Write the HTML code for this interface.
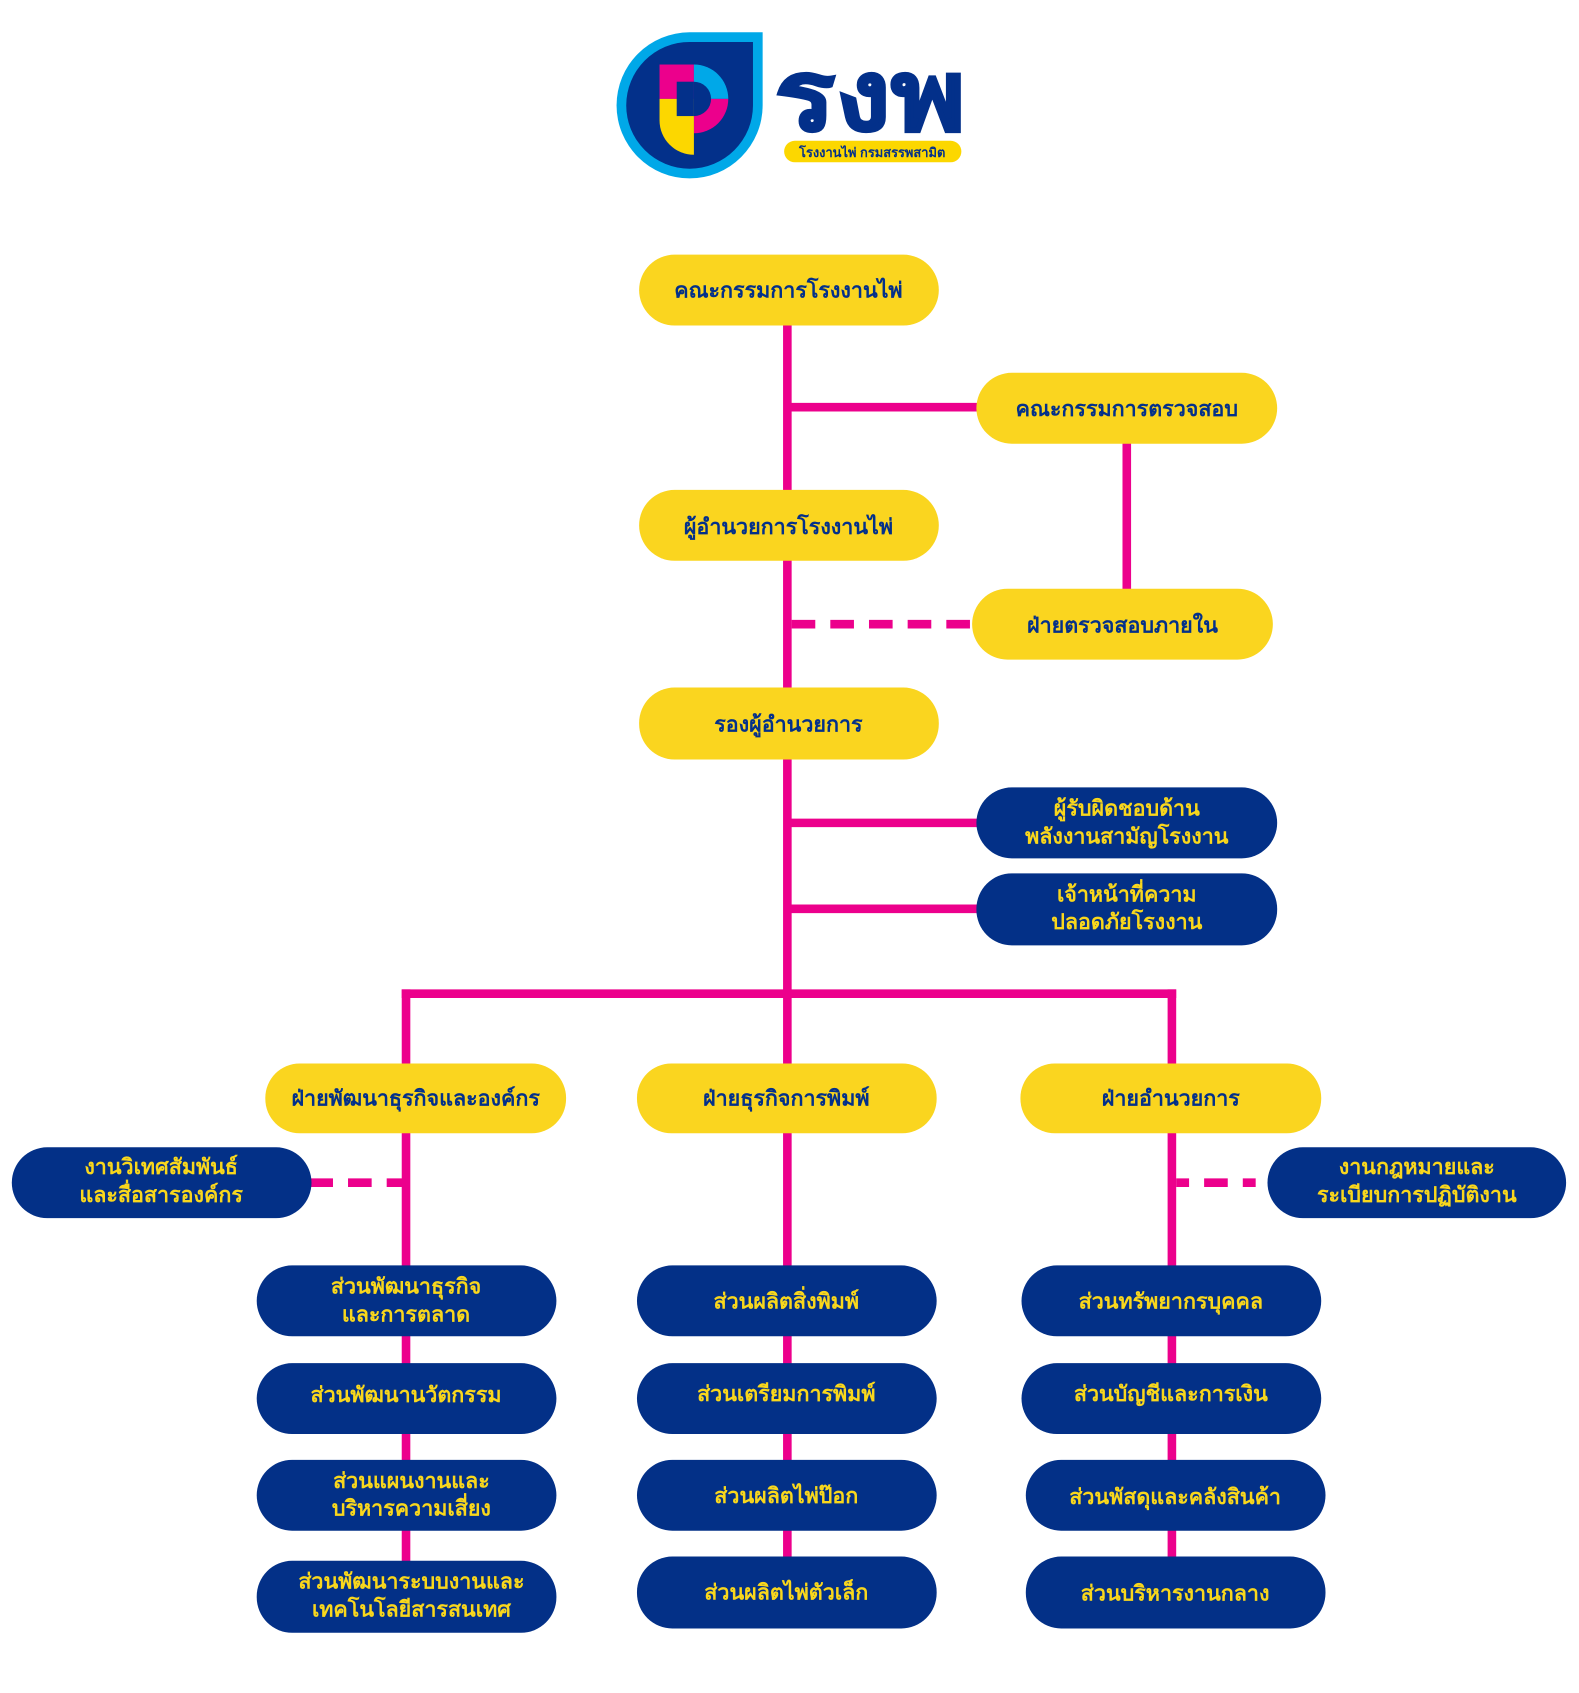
<!DOCTYPE html>
<html><head><meta charset="utf-8"><style>
html,body{margin:0;padding:0;background:#fff;}
svg{display:block}
text{font-family:"Liberation Sans","Noto Sans CJK SC",sans-serif;font-weight:bold;text-anchor:middle;}
</style></head><body>
<svg width="1579" height="1693" viewBox="0 0 1470 1576" xmlns="http://www.w3.org/2000/svg">
<!-- logo -->
<path d="M710,30 L710,98 A68,68 0 1 1 642,30 Z" fill="#00a8e8"/>
<path d="M701,39 L701,98 A59,59 0 1 1 642,39 Z" fill="#03308a"/>
<rect x="614" y="60" width="32" height="32" fill="#ec008c"/>
<path d="M646,60 A32,32 0 0 1 678,92 L646,92 Z" fill="#00a8e8"/>
<path d="M646,92 L678,92 A32,32 0 0 1 646,124 Z" fill="#ec008c"/>
<path d="M614,92 L646,92 L646,144 A32,32 0 0 1 614,112 Z" fill="#fcd700"/>
<rect x="630" y="76" width="16" height="32" fill="#03308a"/>
<path d="M646,76 A16,16 0 0 1 646,108 Z" fill="#03308a"/>
<text x="810" y="121" font-size="92" fill="#03308a" stroke="#03308a" stroke-width="2" transform="translate(810 0) scale(1.15 1) translate(-810 0)">รงพ</text>
<rect x="730" y="131" width="165" height="20" rx="10" fill="#fcd700"/>
<text x="812" y="146" font-size="12" fill="#03308a">โรงงานไพ่ กรมสรรพสามิต</text>

<g stroke="#ec008c" stroke-width="8" fill="none">
<line x1="733" y1="300" x2="733" y2="990"/>
<line x1="733" y1="379" x2="912" y2="379"/>
<line x1="1049" y1="410" x2="1049" y2="550"/>
<line x1="737" y1="581" x2="908" y2="581" stroke-dasharray="22,14"/>
<line x1="733" y1="766" x2="912" y2="766"/>
<line x1="733" y1="846" x2="912" y2="846"/>
<line x1="374" y1="925" x2="1095" y2="925"/>
<line x1="378" y1="921" x2="378" y2="1500"/>
<line x1="1091" y1="921" x2="1091" y2="1500"/>
<line x1="733" y1="1050" x2="733" y2="1500"/>
<line x1="288" y1="1101" x2="378" y2="1101" stroke-dasharray="22,14"/>
<line x1="1095" y1="1101" x2="1182" y2="1101" stroke-dasharray="12,14,22,14"/>
</g>

<g fill="#fad51f">
<rect x="595" y="237" width="279" height="66" rx="33"/>
<rect x="909" y="347" width="280" height="66" rx="33"/>
<rect x="595" y="456" width="279" height="66" rx="33"/>
<rect x="905" y="548" width="280" height="66" rx="33"/>
<rect x="595" y="640" width="279" height="67" rx="33"/>
<rect x="247" y="990" width="280" height="65" rx="32"/>
<rect x="593" y="990" width="279" height="65" rx="32"/>
<rect x="950" y="990" width="280" height="65" rx="32"/>
</g>
<g fill="#033087">
<rect x="909" y="733" width="280" height="66" rx="33"/>
<rect x="909" y="813" width="280" height="67" rx="33"/>
<rect x="11" y="1068" width="279" height="66" rx="33"/>
<rect x="1180" y="1068" width="278" height="66" rx="33"/>
<rect x="239" y="1178" width="279" height="66" rx="33"/>
<rect x="239" y="1269" width="279" height="66" rx="33"/>
<rect x="239" y="1359" width="279" height="66" rx="33"/>
<rect x="239" y="1453" width="279" height="67" rx="33"/>
<rect x="593" y="1178" width="279" height="66" rx="33"/>
<rect x="593" y="1269" width="279" height="66" rx="33"/>
<rect x="593" y="1359" width="279" height="66" rx="33"/>
<rect x="593" y="1449" width="279" height="67" rx="33"/>
<rect x="951" y="1178" width="279" height="66" rx="33"/>
<rect x="951" y="1269" width="279" height="66" rx="33"/>
<rect x="955" y="1359" width="279" height="66" rx="33"/>
<rect x="955" y="1449" width="279" height="67" rx="33"/>
</g>

<g fill="#03308a" font-size="20">
<text x="734" y="277">คณะกรรมการโรงงานไพ่</text>
<text x="1049" y="387">คณะกรรมการตรวจสอบ</text>
<text x="734" y="497">ผู้อำนวยการโรงงานไพ่</text>
<text x="1045" y="589">ฝ่ายตรวจสอบภายใน</text>
<text x="734" y="681">รองผู้อำนวยการ</text>
<text x="387" y="1029">ฝ่ายพัฒนาธุรกิจและองค์กร</text>
<text x="732" y="1029">ฝ่ายธุรกิจการพิมพ์</text>
<text x="1090" y="1029">ฝ่ายอำนวยการ</text>
</g>
<g fill="#f9d71c" font-size="20">
<text x="1049" y="759">ผู้รับผิดชอบด้าน</text>
<text x="1049" y="785">พลังงานสามัญโรงงาน</text>
<text x="1049" y="839">เจ้าหน้าที่ความ</text>
<text x="1049" y="865">ปลอดภัยโรงงาน</text>
<text x="150" y="1093">งานวิเทศสัมพันธ์</text>
<text x="150" y="1119">และสื่อสารองค์กร</text>
<text x="1319" y="1093">งานกฎหมายและ</text>
<text x="1319" y="1119">ระเบียบการปฏิบัติงาน</text>
<text x="378" y="1204">ส่วนพัฒนาธุรกิจ</text>
<text x="378" y="1230">และการตลาด</text>
<text x="378" y="1305">ส่วนพัฒนานวัตกรรม</text>
<text x="383" y="1385">ส่วนแผนงานและ</text>
<text x="383" y="1411">บริหารความเสี่ยง</text>
<text x="383" y="1479">ส่วนพัฒนาระบบงานและ</text>
<text x="383" y="1505">เทคโนโลยีสารสนเทศ</text>
<text x="732" y="1218">ส่วนผลิตสิ่งพิมพ์</text>
<text x="732" y="1304">ส่วนเตรียมการพิมพ์</text>
<text x="732" y="1399">ส่วนผลิตไพ่ป๊อก</text>
<text x="732" y="1489">ส่วนผลิตไพ่ตัวเล็ก</text>
<text x="1090" y="1218">ส่วนทรัพยากรบุคคล</text>
<text x="1090" y="1304">ส่วนบัญชีและการเงิน</text>
<text x="1094" y="1400">ส่วนพัสดุและคลังสินค้า</text>
<text x="1094" y="1490">ส่วนบริหารงานกลาง</text>
</g>
</svg>
</body></html>
